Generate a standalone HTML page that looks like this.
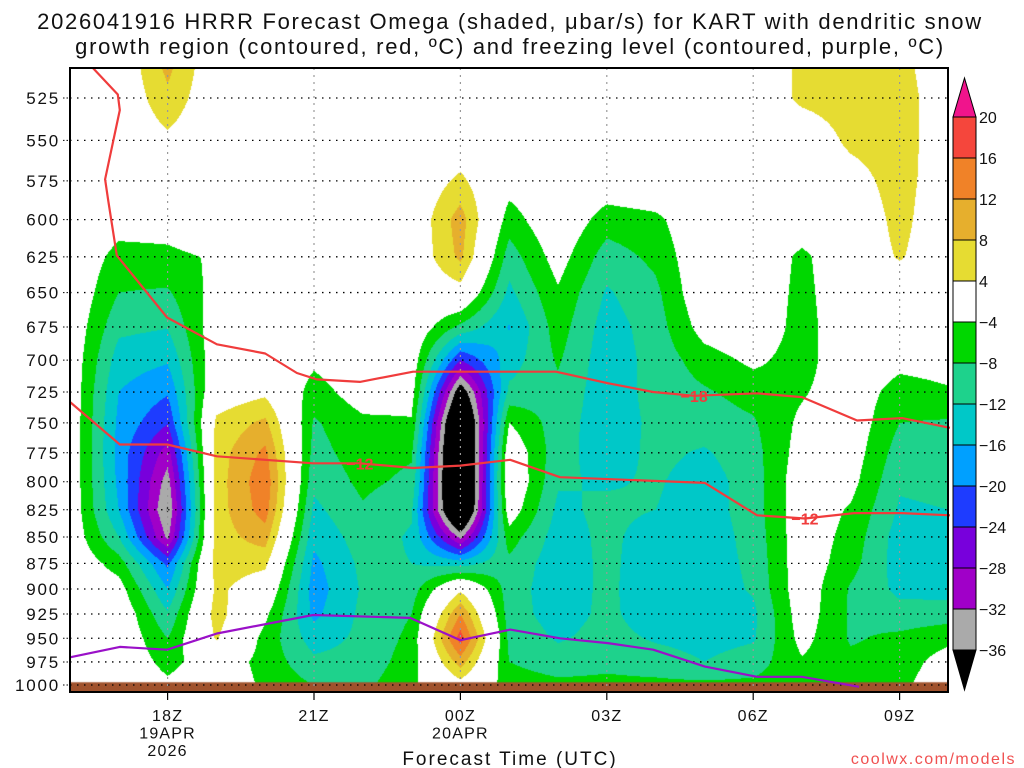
<!DOCTYPE html>
<html><head><meta charset="utf-8">
<style>
html,body{margin:0;padding:0;background:#fff;}
#wrap{position:relative;width:1024px;height:768px;overflow:hidden;font-family:"Liberation Sans",sans-serif;}
#fill{position:absolute;left:70px;top:68px;}
#ov{position:absolute;left:0;top:0;}
</style></head>
<body>
<div id="wrap">
<canvas id="fill" width="878" height="624"></canvas>
<svg id="ov" width="1024" height="768">
<text x="510" y="29" text-anchor="middle" font-size="22" letter-spacing="1.7" fill="#111">2026041916 HRRR Forecast Omega (shaded, μbar/s) for KART with dendritic snow</text>
<text x="510" y="54" text-anchor="middle" font-size="22" letter-spacing="1.7" fill="#111">growth region (contoured, red, ºC) and freezing level (contoured, purple, ºC)</text>
<g id="grid"></g>
<g id="lines"></g>
<g id="yax"></g>
<g id="xax"></g>
<g id="cbar"></g>
<rect x="70" y="68" width="878" height="624" fill="none" stroke="#000" stroke-width="2"/>
<text x="510" y="765" text-anchor="middle" font-size="19" letter-spacing="2" fill="#111">Forecast Time (UTC)</text>
<text x="1016" y="764" text-anchor="end" font-size="16" fill="#f05050" letter-spacing="1.5">coolwx.com/models</text>
</svg>
</div>
<script>
// ---- data ----
const hours = [16,17,18,19,20,21,22,23,24,25,26,27,28,29,30,31,32,33,34];
const levels = [500,525,550,575,600,625,650,675,700,725,750,775,800,825,850,875,900,925,950,975,1000];
const omega = [
 [0,0,0,0,0,0,0,-0.3,-0.5,-0.5,-0.5,-0.5,-0.5,-0.5,-0.5,0,0,0,0,0,0],
 [0,0,0,0,-2,-5.5,-8,-11,-14,-16,-17,-17.5,-17,-16,-12,-6,-2,0,0,0,0],
 [10,7,3,0,-2,-5,-8.5,-11.8,-15.5,-19.5,-23.7,-30,-34,-36.3,-33,-21,-16,-11.5,-8,-5.5,-3],
 [0,0,0,0,0,-3.5,-2.3,-1,-0.5,1,5,6,6,6,6,6,5,6,4.5,-1,0],
 [0,0,0,0,0,0,0,0,0,3,9,13,15,14,10,5,1,-3,-5.5,-5.5,-5],
 [0,0,0,0,0,0,0,0,-3,-6,-8.5,-9.5,-11,-13,-15,-17,-18,-17,-14,-11,-8],
 [0,0,0,0,0,0,0,0,0,-1.5,-5,-6,-7,-8.5,-10,-11,-11.5,-11,-11,-10.5,-9],
 [0,0,0,0,0,0,0,0,-1,-2,-4.5,-7.5,-9,-11.5,-12.5,-12,-10,-8,-7,-6,-5],
 [0,-0.5,0.5,5,10,9,2,-9,-24,-40,-50,-52,-52,-50,-33,-14,3,12,18,10,2],
 [0,0,0,-2,-6,-10,-13,-16.3,-14,-11,-4,0,1,-1,-6,-9,-10,-10,-9,-8,-6],
 [0,0,0,0,0,-2,-4.5,-6,-7.5,-9,-10,-10.5,-11.5,-13,-14,-14.5,-14.5,-14,-12.5,-10,-7],
 [0,0,0,-1,-6,-10,-12.5,-14,-14.5,-14.5,-14.5,-14,-12.5,-11,-11,-11,-11,-11,-10.5,-9,-7],
 [0,0,0,0,-5,-7,-9,-10,-10.5,-10.5,-11,-11,-11.5,-12,-14,-14.5,-15,-14.5,-12.5,-10,-7],
 [0,0,0,0,0,0,0,-2,-6,-8.5,-10,-12.5,-14,-14,-14.5,-14.5,-14.5,-14,-13.5,-12,-7],
 [0,0,0,0,0,0,0,0,-3,-6.5,-8.5,-9.5,-10,-10,-10.5,-11,-11.5,-13,-12.5,-10,-7],
 [5,5,0.5,0,-1,-5,-5.5,-6,-6,-4.5,-3,-2,-1,-1,-1,-1,-1,-1.5,-2.5,-4.5,-5.5],
 [5,6,5,2,0,0,0,0,0,-1,-1,-1.5,-2.5,-4.5,-5.5,-6.5,-8.5,-8.5,-8.5,-7,-5],
 [5,6,6,6,5.5,4.5,0,0,-2.5,-6,-8,-10,-11.5,-12.5,-14,-14,-13,-10.5,-7,-6,-5],
 [1,1,1,0.5,0,0,0,0,-2,-4.5,-8.5,-10,-11,-12,-14,-14.5,-13.5,-10,-5,-2,-1]
];
const bounds = [20,16,12,8,4,-4,-8,-12,-16,-20,-24,-28,-32,-36];
const bandColors = ['#f0148c','#f5463c','#f08228','#e6af2d','#e6dc32','#ffffff','#00d700','#1ed28c','#00c8c8','#00a0ff','#1e3cff','#7800dc','#a000c8','#aaaaaa','#000000'];
const yTicks = [525,550,575,600,625,650,675,700,725,750,775,800,825,850,875,900,925,950,975,1000];
const xTickHours = [18,21,24,27,30,33];
const xTickLabels = [['18Z','19APR','2026'],['21Z'],['00Z','20APR'],['03Z'],['06Z'],['09Z']];
const dgzUpperH = [16.47,16.98,17.02,16.72,16.78,16.96,17.99,19.01,20,20.65,21.06,21.94,23.03,25.02,25.96,27.02,27.95,28.79,30.08,31,32.13,33.05,34.03];
const dgzUpperP = [508,523,532,574,587,624,668,688,695,710,715,717,709,709,709,718,725,728,726,729,748,746,754];
const dgzLowerH = [16,17.02,17.99,19.01,20.98,21.94,23.03,24,25.02,26.04,29.01,30.08,31.06,32.07,33.05,34.03];
const dgzLowerP = [733,768,768,778,784,784,788,786,781,796,801,830,833,828,828,830];
const frzH = [16,17.02,17.99,19.01,20.98,22.97,24,25.02,26.04,27.02,27.95,29.01,30.08,31,32.17];
const frzP = [970,959,962,945,926,929,952,941,950,955,962,980,991,991,1002];
const groundP = 997;

// ---- axes ----
const X0=70, Y0=68, W=878, H=624;
function xs(h){return X0+(h-16)*48.8;}
function ys(p){return 98+911*Math.log(p/525);}
function hex(c){return [parseInt(c.substr(1,2),16),parseInt(c.substr(3,2),16),parseInt(c.substr(5,2),16)];}
const rgb = bandColors.map(hex);
function bandIdx(v){for(let i=0;i<bounds.length;i++){if(v>=bounds[i])return i;}return bounds.length;}

// ---- shading ----
const cv=document.getElementById('fill'), ctx=cv.getContext('2d');
const img=ctx.createImageData(W,H);
for(let py=0;py<H;py++){
  const p=525*Math.exp((Y0+py+0.5-98)/911);
  let fj=(p-levels[0])/25; fj=Math.max(0,Math.min(levels.length-1.0001,fj));
  const j=Math.floor(fj), tj=fj-j;
  for(let px=0;px<W;px++){
    const h=16+(px+0.5)/48.8;
    let fi=h-hours[0]; fi=Math.max(0,Math.min(hours.length-1.0001,fi));
    const i=Math.floor(fi), ti=fi-i;
    const v=(omega[i][j]*(1-ti)+omega[i+1][j]*ti)*(1-tj)+(omega[i][j+1]*(1-ti)+omega[i+1][j+1]*ti)*tj;
    const c=rgb[bandIdx(v)], k=(py*W+px)*4;
    img.data[k]=c[0];img.data[k+1]=c[1];img.data[k+2]=c[2];img.data[k+3]=255;
  }
}
ctx.putImageData(img,0,0);
ctx.fillStyle='#a0522d';
ctx.fillRect(0,ys(groundP)-Y0,W,H);

const NS='http://www.w3.org/2000/svg';
function mk(tag,attrs,parent){const e=document.createElementNS(NS,tag);for(const k in attrs)e.setAttribute(k,attrs[k]);parent.appendChild(e);return e;}

// grid
const grid=document.getElementById('grid');
yTicks.forEach(p=>{
  const l=mk('line',{x1:X0,x2:X0+W,y1:ys(p),y2:ys(p),stroke:'#000','stroke-width':1.3,'stroke-dasharray':'1.5,5.5'},grid);
  
  
});
xTickHours.forEach(h=>{
  const l=mk('line',{x1:xs(h),x2:xs(h),y1:Y0,y2:Y0+H,stroke:'#999','stroke-width':1.2,'stroke-dasharray':'2,5'},grid);
  
  
});

// lines
const lines=document.getElementById('lines');
function poly(hs,ps,color,name){
  const pts=hs.map((h,i)=>xs(h).toFixed(1)+','+ys(ps[i]).toFixed(1)).join(' ');
  const e=mk('polyline',{points:pts,fill:'none',stroke:color,'stroke-width':2.2,'stroke-linejoin':'round'},lines);
  
  
}
poly(dgzUpperH,dgzUpperP,'#f03c3c','dgz-minus18-line');
poly(dgzLowerH,dgzLowerP,'#f03c3c','dgz-minus12-line');
poly(frzH,frzP,'#9a10c8','freezing-level-line');
function lab(h,p,t){
  const e=mk('text',{x:xs(h),y:ys(p)+6,'text-anchor':'middle','font-size':16,'font-weight':'bold',fill:'#f03c3c'},lines);
  e.textContent=t;
  
  
}
lab(21.94,784,'−12'); lab(28.79,728,'−18'); lab(31.06,833,'−12');

// y axis
const yax=document.getElementById('yax');
yTicks.forEach(p=>{
  const t=mk('text',{x:60,y:ys(p)+6,'text-anchor':'end','font-size':17,'letter-spacing':1.8,fill:'#111'},yax);
  t.textContent=p;
  
  
  mk('line',{x1:63,x2:70,y1:ys(p),y2:ys(p),stroke:'#000','stroke-width':1,'stroke-dasharray':'1.5,2'},yax);
});
// x axis
const xax=document.getElementById('xax');
xTickHours.forEach((h,i)=>{
  mk('line',{x1:xs(h),x2:xs(h),y1:692,y2:700,stroke:'#000','stroke-width':1.2},xax);
  xTickLabels[i].forEach((s,k)=>{
    const t=mk('text',{x:xs(h),y:721+k*17.5,'text-anchor':'middle','font-size':16,'letter-spacing':1.2,fill:'#111'},xax);
    t.textContent=s;
    
    
  });
});
// colorbar
const cb=document.getElementById('cbar');
const cbTop=117, cbx=953, cbw=23;
function cy(i){return cbTop+i*(650-cbTop)/(bounds.length-1);}
mk('polygon',{points:`${cbx},${cy(0)} ${cbx+cbw},${cy(0)} ${cbx+cbw/2},78`,fill:bandColors[0],stroke:'#000','stroke-width':1},cb);
for(let i=0;i<bounds.length-1;i++){
  const r=mk('rect',{x:cbx,y:cy(i),width:cbw,height:cy(i+1)-cy(i),fill:bandColors[i+1],stroke:'#000','stroke-width':1},cb);
  
  
}
mk('polygon',{points:`${cbx},${cy(bounds.length-1)} ${cbx+cbw},${cy(bounds.length-1)} ${cbx+cbw/2},690`,fill:'#000',stroke:'#000','stroke-width':1},cb);
bounds.forEach((b,i)=>{
  const t=mk('text',{x:979,y:cy(i)+6,'font-size':16,fill:'#111'},cb);
  t.textContent=b<0?'−'+(-b):String(b);
  
  
});
</script>
</body></html>
